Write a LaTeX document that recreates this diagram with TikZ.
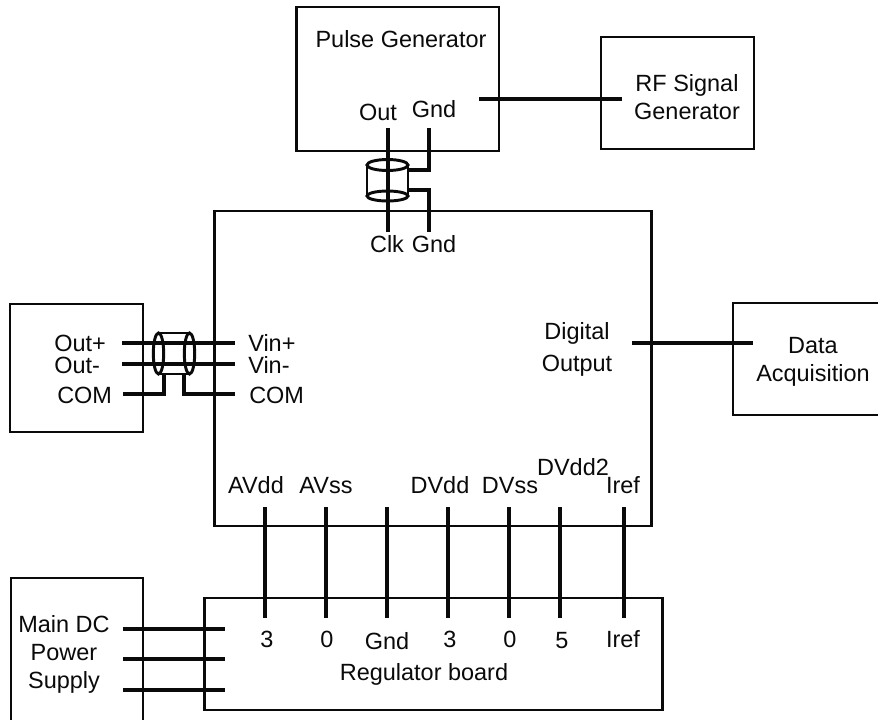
\documentclass[tikz,border=0pt]{standalone}
\usepackage{fontspec}
\setmainfont{Liberation Sans}
\definecolor{ink}{RGB}{10,10,10}
\tikzset{
  every picture/.style={color=ink, font=\fontsize{17.6pt}{21pt}\selectfont},
  box/.style={draw=ink, line width=1.9pt, fill=white, inner sep=0pt, outer sep=0pt, anchor=north west},
  wire/.style={draw=ink, line width=2.4pt},
  shell/.style={draw=ink, line width=2.2pt},
  lbl/.style={inner sep=0pt, anchor=base, text=ink},
  note/.style={inner sep=0pt, align=center, text=ink},
}
\begin{document}
\begin{tikzpicture}[x=0.75pt, y=-0.75pt]
  \clip (0,0) rectangle (878,719);
  % instruments
  \node[box, minimum width=152pt, minimum height=108pt] (pulse) at (296.5,7) {};
  \node[box, minimum width=114.75pt, minimum height=84pt] (rf) at (601,37) {};
  \node[box, minimum width=327.75pt, minimum height=236.25pt] (adc) at (214.5,211) {};
  \node[box, minimum width=99.75pt, minimum height=96pt] (source) at (10,304) {};
  \node[box, minimum width=135pt, minimum height=84pt] (daq) at (733,303) {};
  \node[box, minimum width=343.5pt, minimum height=84pt] (reg) at (204.5,598) {};
  \node[box, minimum width=99pt, minimum height=120pt] (supply) at (11,578) {};
  % labels
  \node[lbl] (pulsetxt) at (401,47.5) {Pulse Generator};
  \node[lbl] (out) at (378,120) {Out};
  \node[lbl] (gndp) at (434,117) {Gnd};
  \node[note] (rftxt) at (687,97) {RF Signal\\Generator};
  \node[lbl] (clk) at (387,252) {Clk};
  \node[lbl] (gndc) at (434,252) {Gnd};
  \node[lbl, anchor=base west] (outp) at (54,351.5) {Out+};
  \node[lbl, anchor=base west] (outm) at (54,373) {Out-};
  \node[lbl, anchor=base west] (coml) at (57,403) {COM};
  \node[lbl, anchor=base west] (vinp) at (248,351.5) {Vin+};
  \node[lbl, anchor=base west] (vinm) at (248,373) {Vin-};
  \node[lbl, anchor=base west] (comr) at (249,403) {COM};
  \node[note, font=\fontsize{17.6pt}{24pt}\selectfont] (digital) at (577,349) {Digital\\Output};
  \node[note] (daqtxt) at (813,362) {Data\\Acquisition};
  \node[lbl] (avdd) at (256,493) {AVdd};
  \node[lbl] (avss) at (326,493) {AVss};
  \node[lbl] (dvdd) at (440,493) {DVdd};
  \node[lbl] (dvss) at (510,493) {DVss};
  \node[lbl] (dvddb) at (573,475) {DVdd2};
  \node[lbl] (iref) at (623,493) {Iref};
  \node[lbl] (rega) at (267,647) {3};
  \node[lbl] (regb) at (327,647) {0};
  \node[lbl] (regc) at (387,649) {Gnd};
  \node[lbl] (regd) at (450,647) {3};
  \node[lbl] (rege) at (510,647) {0};
  \node[lbl] (regf) at (562,648) {5};
  \node[lbl] (regg) at (623,647) {Iref};
  \node[lbl] (regtxt) at (424,680.5) {Regulator board};
  \node[note] (supplytxt) at (64,654) {Main DC\\Power\\Supply};
  % wire ends
  \coordinate (clka) at (388,128); \coordinate (clkb) at (388,232);
  \coordinate (gnda) at (429,128); \coordinate (gndb) at (429,170); \coordinate (gndc1) at (408,170);
  \coordinate (gndd) at (408,190); \coordinate (gnde) at (429,190); \coordinate (gndf) at (429,232);
  \coordinate (rfa) at (479,99); \coordinate (rfb) at (622,99);
  \coordinate (pa) at (122,343); \coordinate (pb) at (235,343);
  \coordinate (ma) at (122,364); \coordinate (mb) at (235,364);
  \coordinate (ca) at (123,394); \coordinate (cb) at (164,394); \coordinate (cc) at (164,374);
  \coordinate (cd) at (184,374); \coordinate (ce) at (184,394); \coordinate (cf) at (235,394);
  \coordinate (da) at (632,343); \coordinate (db) at (753,343);
  % rails to the regulator
  \draw[wire] (265,507) coordinate (ra) -- (265,618) coordinate (rb);
  \draw[wire] (326,507) coordinate (sa) -- (326,618) coordinate (sb);
  \draw[wire] (387,507) coordinate (ta) -- (387,618) coordinate (tb);
  \draw[wire] (448,507) coordinate (ua) -- (448,618) coordinate (ub);
  \draw[wire] (509,507) coordinate (va) -- (509,618) coordinate (vb);
  \draw[wire] (560,507) coordinate (wa) -- (560,618) coordinate (wb);
  \draw[wire] (624,507) coordinate (xa) -- (624,618) coordinate (xb);
  \draw[wire] (123,629) coordinate (ya) -- (225,629) coordinate (yb);
  \draw[wire] (123,659) coordinate (za) -- (225,659) coordinate (zb);
  \draw[wire] (123,690) coordinate (qa) -- (225,690) coordinate (qb);
  % signal wires
  \draw[wire] (clka) -- (clkb);
  \draw[wire] (gnda) -- (gndb) -- (gndc1);
  \draw[wire] (gndd) -- (gnde) -- (gndf);
  \draw[wire] (rfa) -- (rfb);
  \draw[wire] (pa) -- (pb);
  \draw[wire] (ma) -- (mb);
  \draw[wire] (ca) -- (cb) -- (cc);
  \draw[wire] (cd) -- (ce) -- (cf);
  \draw[wire] (da) -- (db);
  % shields
  \draw[shell] (387.5,165) ellipse (20.5 and 5.5);
  \draw[shell] (387.5,196) ellipse (20.5 and 5);
  \draw[shell] (367,165) -- (367,196);
  \draw[shell] (408,165) -- (408,196);
  \draw[shell] (158.5,353.5) ellipse (5.2 and 20.5);
  \draw[shell] (189.5,353.5) ellipse (5.2 and 20.5);
  \draw[shell] (158.5,333) -- (189.5,333);
  \draw[shell] (158.5,374) -- (189.5,374);
\end{tikzpicture}
\end{document}
